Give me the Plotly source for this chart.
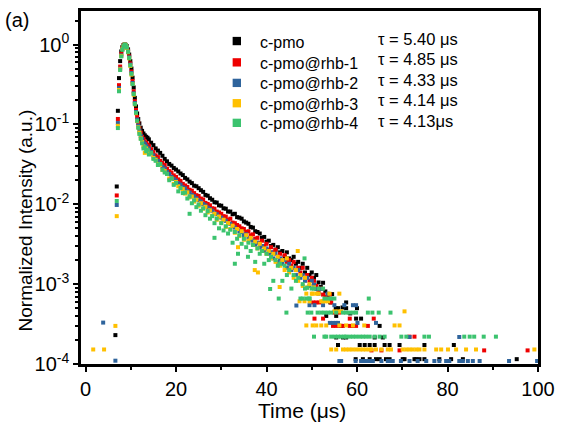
import plotly.graph_objects as go

# ---------------- data ----------------
T_MAIN = [6.6, 6.9, 7.15, 7.4, 7.65, 7.9, 8.15, 8.4, 8.65, 8.9,
          9.15, 9.4, 9.65, 9.9, 10.15, 10.4, 10.65, 10.9, 11.15, 11.4,
          11.65, 11.9, 12.2, 12.5, 12.8, 13.1, 13.4, 13.7, 14.0,
          14.5, 15.0, 15.5, 16.0, 16.5, 17.0, 17.5, 18.0, 18.5, 19.0,
          19.5, 20.0, 20.5, 21.0, 21.5, 22.0, 22.5, 23.0, 23.5, 24.0,
          24.5, 25.0, 25.5, 26.0, 26.5, 27.0, 27.5, 28.0, 28.5, 29.0,
          29.5, 30.0, 30.5, 31.0, 31.5, 32.0, 32.5, 33.0, 33.5, 34.0,
          34.5, 35.0, 35.5, 36.0, 36.5, 37.0, 37.5, 38.0, 38.5, 39.0,
          39.5, 40.0, 40.5, 41.0, 41.5, 42.0, 42.5, 43.0, 43.5, 44.0,
          44.5, 45.0, 45.5, 46.0, 46.5, 47.0, 47.5, 48.0, 48.5, 49.0,
          49.5, 50.0]

BLACK = [0.00023, 0.0167, 0.148, 0.38, 0.62, 0.82, 0.93, 0.985, 1.0, 0.99,
         0.95, 0.87, 0.75, 0.62, 0.5, 0.385, 0.29, 0.215, 0.168, 0.137,
         0.117, 0.103, 0.091, 0.083, 0.077, 0.073, 0.07, 0.068, 0.065,
         0.059, 0.055, 0.05, 0.047, 0.044, 0.0405, 0.037, 0.0345, 0.032, 0.0305,
         0.0285, 0.0272, 0.0258, 0.0243, 0.0232, 0.0214, 0.0205, 0.0192, 0.0184, 0.0171,
         0.0168, 0.0159, 0.015, 0.0143, 0.0131, 0.0128, 0.0119, 0.0114, 0.0106, 0.0105,
         0.0097, 0.0096, 0.0089, 0.0088, 0.0081, 0.0081, 0.0075, 0.0076, 0.0069, 0.0068,
         0.0066, 0.0061, 0.0059, 0.0057, 0.0052, 0.0051, 0.0046, 0.0045, 0.0043, 0.0038,
         0.0039, 0.0034, 0.0035, 0.0030, 0.0031, 0.0027, 0.0029, 0.0025, 0.0026, 0.0022,
         0.0025, 0.0021, 0.0020, 0.0022, 0.0018, 0.0019, 0.0016, 0.0018, 0.0014, 0.0016,
         0.0013, 0.0014]

RED = [None, 0.0129, 0.117, 0.31, 0.53, 0.76, 0.9, 0.97, 1.0, 0.98,
       0.93, 0.84, 0.71, 0.58, 0.46, 0.35, 0.26, 0.195, 0.152, 0.124,
       0.104, 0.09, 0.079, 0.07, 0.066, 0.061, 0.059, 0.056, 0.054,
       0.049, 0.045, 0.041, 0.039, 0.035, 0.033, 0.031, 0.028, 0.026, 0.025,
       0.023, 0.022, 0.0205, 0.0196, 0.018, 0.0172, 0.0165, 0.0152, 0.0148, 0.0138,
       0.013, 0.0127, 0.0118, 0.0115, 0.0104, 0.0101, 0.0097, 0.0089, 0.0088, 0.0081,
       0.0079, 0.0076, 0.0071, 0.0070, 0.0064, 0.0066, 0.0059, 0.0058, 0.0055, 0.0053,
       0.0050, 0.0049, 0.0045, 0.0046, 0.0041, 0.0042, 0.0037, 0.0038, 0.0033, 0.0035,
       0.0030, 0.0032, 0.0027, 0.0029, 0.0025, 0.0027, 0.0022, 0.0024, 0.0020, 0.0023,
       0.0019, 0.0020, 0.0017, 0.0019, 0.0015, 0.0016, 0.0014, 0.0016, 0.0012, 0.0013,
       0.0011, 0.0012]

BLUE = [0.00011, 0.0098, 0.104, 0.285, 0.5, 0.73, 0.88, 0.96, 1.0, 0.97,
        0.92, 0.82, 0.69, 0.56, 0.44, 0.33, 0.245, 0.185, 0.143, 0.115,
        0.097, 0.084, 0.072, 0.066, 0.06, 0.057, 0.054, 0.051, 0.049,
        0.045, 0.041, 0.037, 0.035, 0.032, 0.0295, 0.028, 0.0255, 0.024, 0.022,
        0.0208, 0.0198, 0.0183, 0.0176, 0.0163, 0.0158, 0.0146, 0.014, 0.0131, 0.0126,
        0.0119, 0.0112, 0.0108, 0.0101, 0.0097, 0.0091, 0.0087, 0.0083, 0.0077, 0.0075,
        0.0070, 0.0068, 0.0064, 0.0062, 0.0058, 0.0057, 0.0053, 0.0051, 0.0049, 0.0046,
        0.0045, 0.0041, 0.0042, 0.0038, 0.0036, 0.0035, 0.0031, 0.0033, 0.0029, 0.0030,
        0.0026, 0.0028, 0.0024, 0.0025, 0.0021, 0.0024, 0.0019, 0.0021, 0.0018, 0.0020,
        0.0016, 0.0018, 0.0015, 0.0016, 0.0013, 0.0015, 0.0012, 0.0013, 0.0011, 0.0012,
        0.00095, 0.0011]

YELLOW = [0.00030, 0.0071, 0.096, 0.27, 0.49, 0.72, 0.87, 0.95, 1.0, 0.98,
          0.91, 0.8, 0.67, 0.54, 0.42, 0.32, 0.235, 0.178, 0.138, 0.11,
          0.092, 0.079, 0.067, 0.06, 0.053, 0.044, 0.05, 0.047, 0.044,
          0.043, 0.038, 0.036, 0.032, 0.031, 0.027, 0.026, 0.024, 0.021, 0.021,
          0.018, 0.019, 0.0168, 0.0158, 0.0155, 0.0136, 0.0141, 0.0122, 0.0125, 0.0108,
          0.0114, 0.0096, 0.0103, 0.0088, 0.0093, 0.0079, 0.0084, 0.0072, 0.0076, 0.0064,
          0.0070, 0.0059, 0.0064, 0.0052, 0.0058, 0.0049, 0.0054, 0.0044, 0.0049, 0.0040,
          0.0046, 0.0036, 0.0041, 0.0035, 0.0038, 0.0031, 0.0034, 0.0028, 0.0032, 0.0026,
          0.0028, 0.0024, 0.0026, 0.0021, 0.0024, 0.0019, 0.0022, 0.0017, 0.0020, 0.0015,
          0.0021, 0.0014, 0.0016, 0.0012, 0.0015, 0.0011, 0.0013, 0.00095, 0.0012, 0.00091,
          0.0010, 0.00076]

GREEN = [None, 0.011, 0.09, 0.26, 0.48, 0.71, 0.86, 0.95, 1.0, 0.98,
         0.92, 0.81, 0.68, 0.55, 0.43, 0.32, 0.24, 0.18, 0.14, 0.111,
         0.091, 0.076, 0.066, 0.058, 0.05, 0.052, 0.046, 0.048, 0.042,
         0.044, 0.037, 0.035, 0.031, 0.032, 0.027, 0.025, 0.024, 0.020, 0.021,
         0.0175, 0.0185, 0.0145, 0.016, 0.0138, 0.014, 0.0118, 0.0125, 0.0103, 0.0112,
         0.0092, 0.0099, 0.0083, 0.0089, 0.0073, 0.0082, 0.0066, 0.0071, 0.0058, 0.0066,
         0.0050, 0.0058, 0.0047, 0.0053, 0.0043, 0.0048, 0.0033, 0.0045, 0.0037, 0.0041,
         0.0032, 0.0037, 0.0029, 0.0033, 0.0026, 0.0031, 0.0019, 0.0028, 0.0024, 0.0026,
         0.0018, 0.0024, 0.0020, 0.0022, 0.0011, 0.0020, 0.0017, 0.0018, 0.0011, 0.0017,
         0.0013, 0.0015, 0.00088, 0.0013, 0.0011, 0.0012, 0.00066, 0.0010, 0.00088, 0.0009,
         0.00066, 0.00088]

# sparse points (early background and long tail), (time, intensity)
BLACK_EXTRA = [(50.5, 1.2e-3), (51.0, 1.3e-3), (51.5, 1.05e-3), (52.0, 9.2e-4), (52.5, 1.04e-3),
               (53.0, 8.1e-4), (53.5, 6.9e-4), (54.5, 7.5e-4), (56.8, 5.1e-4), (58.5, 4.3e-4),
               (54.1, 5.9e-4), (57.6, 5.9e-4), (55.3, 5.0e-4), (55.8, 5.0e-4), (57.6, 5.0e-4),
               (60.0, 5.0e-4), (53.2, 4.0e-4), (55.4, 4.0e-4), (59.8, 3.7e-4), (60.9, 3.7e-4),
               (56.5, 3.0e-4), (65.0, 3.0e-4), (55.4, 2.15e-4), (56.9, 2.15e-4), (57.6, 2.15e-4),
               (63.9, 2.15e-4), (65.7, 2.15e-4), (55.8, 1.73e-4), (60.6, 1.73e-4), (61.7, 1.73e-4),
               (62.8, 1.73e-4), (63.9, 1.73e-4), (66.1, 1.73e-4), (67.2, 1.73e-4), (69.4, 1.73e-4),
               (74.9, 1.73e-4), (81.4, 1.73e-4), (59.7, 1.15e-4), (61.3, 1.15e-4), (62.8, 1.15e-4),
               (64.2, 1.15e-4), (65.0, 1.15e-4), (66.4, 1.15e-4), (67.2, 1.15e-4), (70.1, 1.15e-4),
               (70.5, 1.15e-4), (72.7, 1.15e-4), (73.1, 1.15e-4), (73.8, 1.15e-4), (74.9, 1.15e-4),
               (78.2, 1.15e-4), (80.8, 1.15e-4), (83.4, 1.15e-4), (95.3, 1.15e-4)]

RED_EXTRA = [(50.5, 1.1e-3), (51.0, 9.5e-4), (51.5, 8.0e-4), (52.0, 8.8e-4), (52.5, 7.4e-4),
             (53.0, 7.0e-4), (53.5, 6.6e-4), (54.0, 7.4e-4), (55.0, 4.4e-4), (56.0, 4.4e-4),
             (50.3, 5.9e-4), (51.0, 5.9e-4), (51.7, 5.9e-4), (54.3, 5.9e-4), (50.6, 3.7e-4),
             (52.5, 3.7e-4), (58.4, 3.7e-4), (63.7, 3.7e-4), (54.7, 3.0e-4), (55.4, 3.0e-4),
             (56.1, 3.0e-4), (56.9, 3.0e-4), (58.4, 3.0e-4), (59.1, 3.0e-4), (59.8, 3.0e-4),
             (62.4, 3.0e-4), (71.6, 2.2e-4), (72.7, 2.2e-4), (63.2, 1.48e-4), (65.4, 1.48e-4),
             (69.4, 1.48e-4), (88.1, 1.48e-4), (97.7, 1.48e-4)]

BLUE_EXTRA = [(3.9, 3.3e-4), (46.6, 5.4e-4), (50.5, 9.8e-4), (51.0, 8.7e-4), (51.5, 7.6e-4),
              (52.0, 8.7e-4), (53.0, 6.5e-4), (53.5, 7.6e-4), (49.5, 5.45e-4), (50.6, 5.45e-4),
              (52.5, 5.45e-4), (55.0, 5.45e-4), (57.2, 5.45e-4), (59.1, 5.45e-4), (59.8, 5.45e-4),
              (54.0, 3.27e-4), (54.7, 3.27e-4), (55.4, 3.27e-4), (55.8, 3.27e-4), (60.1, 3.27e-4),
              (64.2, 3.27e-4), (71.6, 2.18e-4), (82.6, 2.18e-4), (56.1, 1.09e-4), (56.5, 1.09e-4),
              (59.7, 1.09e-4), (60.9, 1.09e-4), (61.3, 1.09e-4), (61.6, 1.09e-4), (62.0, 1.09e-4),
              (62.4, 1.09e-4), (62.8, 1.09e-4), (63.1, 1.09e-4), (63.5, 1.09e-4), (65.4, 1.09e-4),
              (66.8, 1.09e-4), (67.2, 1.09e-4), (67.5, 1.09e-4), (67.9, 1.09e-4), (69.7, 1.09e-4),
              (71.6, 1.09e-4), (73.4, 1.09e-4), (75.3, 1.09e-4), (77.1, 1.09e-4), (78.2, 1.09e-4),
              (79.7, 1.09e-4), (80.1, 1.09e-4), (80.4, 1.09e-4), (82.6, 1.09e-4), (83.4, 1.09e-4),
              (84.5, 1.09e-4), (85.6, 1.09e-4), (87.1, 1.09e-4), (93.6, 1.09e-4), (99.8, 1.09e-4)]

YELLOW_EXTRA = [(1.7, 1.52e-4), (4.1, 1.52e-4), (33.7, 2.9e-3), (37.4, 1.5e-3), (38.1, 1.4e-3),
                (42.9, 9.2e-4), (46.9, 2.6e-3), (48.8, 3.04e-4), (50.5, 9.1e-4), (51.0, 7.6e-4),
                (51.5, 7.6e-4), (52.5, 6.1e-4), (53.0, 6.1e-4), (47.3, 6.1e-4), (48.4, 6.1e-4),
                (49.5, 6.1e-4), (52.1, 6.1e-4), (53.6, 6.1e-4), (48.8, 7.6e-4), (50.2, 7.6e-4),
                (53.9, 7.6e-4), (56.1, 7.6e-4), (55.0, 4.56e-4), (55.8, 4.56e-4), (56.5, 4.56e-4),
                (70.5, 4.56e-4), (50.2, 3.04e-4), (51.0, 3.04e-4), (52.1, 3.04e-4), (53.2, 3.04e-4),
                (56.1, 3.04e-4), (57.6, 3.04e-4), (59.1, 3.04e-4), (61.6, 3.04e-4), (68.3, 3.04e-4),
                (69.4, 3.04e-4), (54.3, 1.52e-4), (55.4, 1.52e-4), (56.9, 1.52e-4), (57.6, 1.52e-4),
                (58.3, 1.52e-4), (59.0, 1.52e-4), (59.8, 1.52e-4), (60.6, 1.52e-4), (61.3, 1.52e-4),
                (62.0, 1.52e-4), (62.8, 1.52e-4), (63.2, 1.52e-4), (64.2, 1.52e-4), (65.4, 1.52e-4),
                (66.8, 1.52e-4), (67.5, 1.52e-4), (70.1, 1.52e-4), (70.9, 1.52e-4), (71.6, 1.52e-4),
                (72.3, 1.52e-4), (73.1, 1.52e-4), (73.8, 1.52e-4), (74.9, 1.52e-4), (77.5, 1.52e-4),
                (78.6, 1.52e-4), (80.1, 1.52e-4), (81.9, 1.52e-4), (84.1, 1.52e-4), (86.3, 1.52e-4),
                (99.2, 1.52e-4)]

GREEN_EXTRA = [(23.0, 7.6e-3), (28.5, 3.8e-3), (33.0, 1.8e-3), (33.7, 2.4e-3), (35.9, 2.2e-3),
               (40.8, 8.7e-4), (42.7, 6.6e-4), (44.4, 4.4e-4), (49.1, 4.4e-4), (48.4, 2.1e-3),
               (50.5, 8.8e-4), (51.5, 8.8e-4), (52.5, 8.8e-4), (48.0, 6.6e-4), (48.8, 6.6e-4),
               (49.5, 6.6e-4), (52.8, 6.6e-4), (53.6, 6.6e-4), (54.3, 6.6e-4), (55.0, 6.6e-4),
               (62.6, 6.6e-4), (49.9, 4.4e-4), (51.3, 4.4e-4), (52.1, 4.4e-4), (52.8, 4.4e-4),
               (53.6, 4.4e-4), (54.3, 4.4e-4), (55.4, 4.4e-4), (56.9, 4.4e-4), (57.6, 4.4e-4),
               (58.3, 4.4e-4), (59.1, 4.4e-4), (59.8, 4.4e-4), (62.4, 4.4e-4), (63.4, 4.4e-4),
               (64.8, 4.4e-4), (67.4, 4.4e-4), (50.5, 2.2e-4), (52.8, 2.2e-4), (53.2, 2.2e-4),
               (54.3, 2.2e-4), (55.1, 2.2e-4), (55.8, 2.2e-4), (56.5, 2.2e-4), (57.2, 2.2e-4),
               (57.6, 2.2e-4), (58.4, 2.2e-4), (59.1, 2.2e-4), (59.8, 2.2e-4), (60.6, 2.2e-4),
               (61.3, 2.2e-4), (62.0, 2.2e-4), (62.8, 2.2e-4), (63.9, 2.2e-4), (65.0, 2.2e-4),
               (66.1, 2.2e-4), (69.8, 2.2e-4), (70.9, 2.2e-4), (74.9, 2.2e-4), (75.9, 2.2e-4),
               (83.7, 2.2e-4), (84.9, 2.2e-4), (85.9, 2.2e-4), (88.0, 2.2e-4), (90.7, 2.2e-4)]

NAMES = ["c-pmo", "c-pmo@rhb-1", "c-pmo@rhb-2", "c-pmo@rhb-3", "c-pmo@rhb-4"]
TAUS = ["τ = 5.40 μs", "τ = 4.85 μs", "τ = 4.33 μs", "τ = 4.14 μs", "τ = 4.13μs"]
COLORS = ["#000000", "#ee0000", "#2f649c", "#ffc000", "#3cc36f"]

Y_TICKVALS = [1, 0.1, 0.01, 0.001, 0.0001]
Y_TICKTEXT = ["10<sup>0</sup>", "10<sup>-1</sup>", "10<sup>-2</sup>", "10<sup>-3</sup>", "10<sup>-4</sup>"]
Y_MINOR = [m * 10.0 ** e for e in range(-4, 1) for m in range(2, 10)]

# ---------------- layout geometry (pixels) ----------------
W, H = 563, 430
ML, MR, MT, MB = 81, 23, 8, 66
PW, PH = W - ML - MR, H - MT - MB


def px(xp):
    return (xp - ML) / PW


def py(yp):
    return (H - MB - yp) / PH


FONT = "Arial, Liberation Sans, sans-serif"
MAIN = [BLACK, RED, BLUE, YELLOW, GREEN]
EXTRA = [BLACK_EXTRA, RED_EXTRA, BLUE_EXTRA, YELLOW_EXTRA, GREEN_EXTRA]
for s in MAIN:
    assert len(s) == len(T_MAIN)

fig = go.Figure()
for name, col, vals, extra in zip(NAMES, COLORS, MAIN, EXTRA):
    xs = list(T_MAIN) + [p[0] for p in extra]
    ys = list(vals) + [p[1] for p in extra]
    fig.add_trace(go.Scatter(x=xs, y=ys, mode="markers", name=name, showlegend=False,
                             marker=dict(symbol="square", size=4, color=col, line=dict(width=0))))

# legend drawn by hand: colour keys + names + lifetimes
KEY_Y = [38.3, 59.8, 80.5, 101.0, 120.8]
TAU_Y = [36.0, 56.7, 77.3, 97.7, 118.7]
shapes = []
annotations = []
for i, (name, col, tau) in enumerate(zip(NAMES, COLORS, TAUS)):
    ky = KEY_Y[i]
    shapes.append(dict(type="rect", xref="paper", yref="paper",
                       x0=px(233.3), x1=px(241.7), y0=py(ky + 4.2), y1=py(ky - 4.2),
                       fillcolor=col, line=dict(width=0)))
    annotations.append(dict(x=px(259), y=py(ky + 1), xref="paper", yref="paper", text=name,
                            showarrow=False, xanchor="left", yanchor="middle",
                            font=dict(size=16, color="black", family=FONT)))
    annotations.append(dict(x=px(377), y=py(TAU_Y[i]), xref="paper", yref="paper", text=tau,
                            showarrow=False, xanchor="left", yanchor="middle",
                            font=dict(size=16.5, color="black", family=FONT)))

annotations.append(dict(x=px(17), y=py(17), xref="paper", yref="paper", text="(a)", showarrow=False,
                        xanchor="center", yanchor="middle", font=dict(size=20, color="black", family=FONT)))
annotations.append(dict(x=px(302.5), y=py(411), xref="paper", yref="paper", text="Time (μs)",
                        showarrow=False, xanchor="center", yanchor="middle",
                        font=dict(size=21, color="black", family=FONT)))
annotations.append(dict(x=px(25), y=py(219), xref="paper", yref="paper",
                        text="Normalized Intensity (a.u.)", textangle=-90, showarrow=False,
                        xanchor="center", yanchor="middle",
                        font=dict(size=19, color="black", family=FONT)))

fig.update_layout(
    width=W, height=H,
    margin=dict(l=ML, r=MR, t=MT, b=MB),
    paper_bgcolor="white", plot_bgcolor="white",
    font=dict(family=FONT, color="black"),
    showlegend=False,
    shapes=shapes,
    annotations=annotations,
    xaxis=dict(range=[-1, 100], tickmode="linear", tick0=0, dtick=20, ticks="outside", ticklen=5,
               tickwidth=2, tickcolor="black", showline=True, linewidth=2.5, linecolor="black",
               mirror=True, showgrid=False, zeroline=False,
               tickfont=dict(size=20, color="black"),
               minor=dict(tickmode="linear", tick0=0, dtick=10, ticks="outside", ticklen=3,
                          tickwidth=2, tickcolor="black", showgrid=False)),
    yaxis=dict(type="log", range=[-4, 0.42], tickmode="array", tickvals=Y_TICKVALS,
               ticktext=Y_TICKTEXT, ticks="outside", ticklen=5, tickwidth=2, tickcolor="black",
               showline=True, linewidth=2.5, linecolor="black", mirror=True, showgrid=False,
               zeroline=False, tickfont=dict(size=20, color="black"),
               minor=dict(tickmode="array", tickvals=Y_MINOR, ticks="outside", ticklen=3,
                          tickwidth=1.5, tickcolor="black", showgrid=False)),
)

fig.write_html("out.html")
